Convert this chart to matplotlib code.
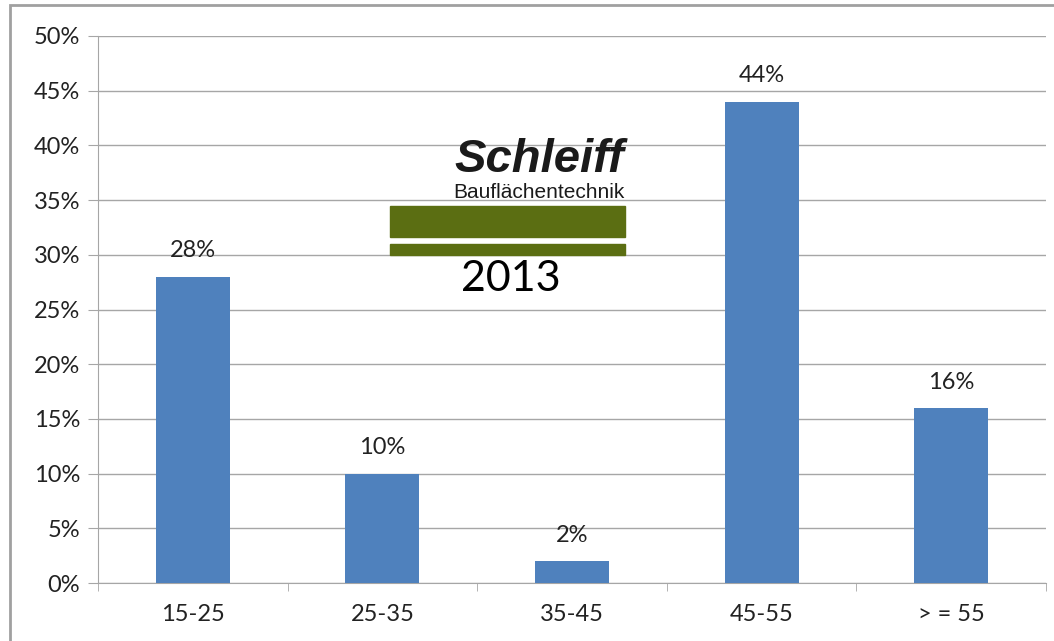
import matplotlib.pyplot as plt
from matplotlib.patches import Rectangle

categories = ["15-25", "25-35", "35-45", "45-55", "> = 55"]
values = [28, 10, 2, 44, 16]
yticks = [0, 5, 10, 15, 20, 25, 30, 35, 40, 45, 50]

bar_color = "#4f81bd"
grid_color = "#a6a6a6"
logo_green = "#5b6e12"

plt.rcParams['font.family'] = ['Lato', 'DejaVu Sans']

fig = plt.figure(figsize=(10.54, 6.41), dpi=100)
ax = fig.add_axes([98 / 1054, 1 - 583 / 641, 948 / 1054, 547 / 641])

x = range(len(categories))
ax.bar(x, values, width=0.39, color=bar_color, zorder=3)
for i, v in zip(x, values):
    ax.annotate(f"{v}%", (i, v), xytext=(0, 11), textcoords="offset points",
                ha="center", va="bottom", fontsize=17, color="#222222")

ax.set_xlim(-0.5, len(categories) - 0.5)
ax.set_ylim(0, 50)
ax.set_yticks(yticks)
ax.set_yticklabels([f"{t}%" for t in yticks], fontsize=17, color="#222222")
ax.set_xticks(list(x))
ax.set_xticklabels(categories, fontsize=17, color="#222222")
ax.set_xticks([i - 0.5 for i in range(len(categories) + 1)], minor=True)
ax.tick_params(axis="x", which="major", length=0, pad=15)
ax.tick_params(axis="x", which="minor", length=6, color=grid_color)
ax.tick_params(axis="y", length=7, color=grid_color, pad=6)
ax.yaxis.grid(True, color=grid_color, linewidth=1, zorder=0)
for side in ["top", "right"]:
    ax.spines[side].set_visible(False)
for side in ["left", "bottom"]:
    ax.spines[side].set_color(grid_color)

# outer chart border
fig.patches.append(Rectangle((10 / 1054, -0.01), 1.1, 1 - 5 / 641 + 0.01,
                             transform=fig.transFigure, fill=False,
                             edgecolor="#a0a0a0", linewidth=2))

# logo
fig.text(624 / 1054, 1 - 172 / 641, "Schleiff", fontsize=34, fontweight="bold",
         fontstyle="italic", family="Liberation Sans", ha="right", va="baseline",
         color="#1a1a1a")
fig.text(625 / 1054, 1 - 198 / 641, "Bauflächentechnik", fontsize=15,
         family="Liberation Sans", ha="right", va="baseline", color="#1a1a1a")
fig.patches.append(Rectangle((390 / 1054, 1 - 237 / 641), 235 / 1054, 31 / 641,
                             transform=fig.transFigure, color=logo_green, zorder=5))
fig.patches.append(Rectangle((390 / 1054, 1 - 255 / 641), 235 / 1054, 11 / 641,
                             transform=fig.transFigure, color=logo_green, zorder=5))
fig.text(511 / 1054, 1 - 291 / 641, "2013", fontsize=31, ha="center", va="baseline",
         color="black")

fig.savefig("out.png", dpi=100)
